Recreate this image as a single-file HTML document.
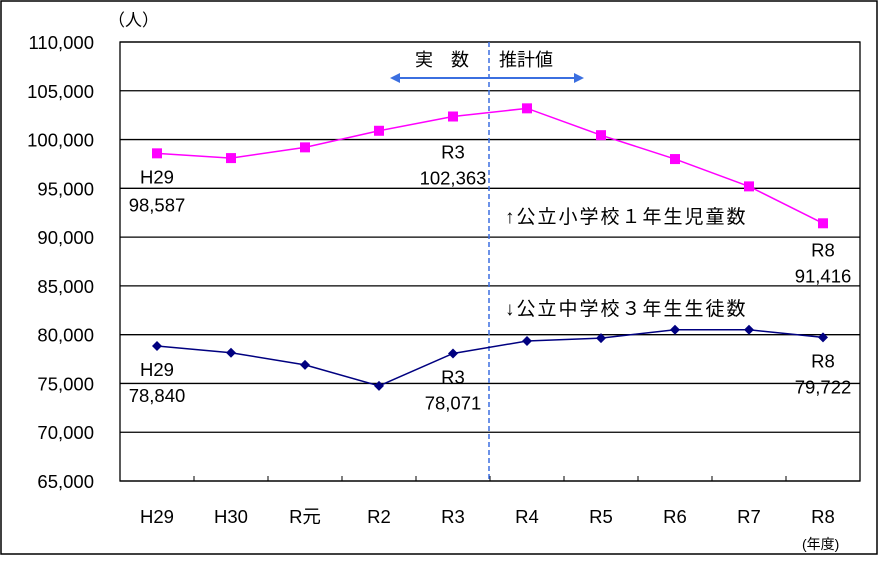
<!DOCTYPE html>
<html><head><meta charset="utf-8"><style>
body{margin:0;background:#fff}
svg text{font-family:"Liberation Sans","Noto Sans CJK JP",sans-serif;fill:#000}
</style></head><body>
<svg width="880" height="556" id="c">
<rect x="1" y="1" width="876" height="553" fill="#fff" stroke="#000" stroke-width="1.5"/>
<text x="108" y="26" font-size="17">（人）</text>
<g id="grid"></g>
<line x1="489" y1="42" x2="489" y2="481" stroke="#3b6fe0" stroke-width="1.5" stroke-dasharray="5,3"/>
<text x="415" y="66" font-size="18">実　数</text>
<text x="499" y="66" font-size="18">推計値</text>
<g>
<line x1="396" y1="78" x2="578" y2="78" stroke="#3b6fe0" stroke-width="2"/>
<polygon points="390,78 400,73 400,83" fill="#3b6fe0"/>
<polygon points="584,78 574,73 574,83" fill="#3b6fe0"/>
</g>
<g id="series"></g>
<text x="505" y="223" font-size="19" letter-spacing="2">↑公立小学校１年生児童数</text>
<text x="505" y="315" font-size="19" letter-spacing="2">↓公立中学校３年生生徒数</text>
<text x="802" y="549" font-size="14">(年度)</text>
</svg>
<script>
const categories=["H29","H30","R元","R2","R3","R4","R5","R6","R7","R8"];
const elemValues=[98587,98100,99200,100900,102363,103200,100450,98000,95200,91416];
const juniorValues=[78840,78150,76900,74750,78071,79350,79650,80500,80500,79722];
const yTicks=[65000,70000,75000,80000,85000,90000,95000,100000,105000,110000];
const L=120,R=860,T=42,B=481,ymin=65000,ymax=110000;
const bw=(R-L)/categories.length;
const x=i=>L+bw*(i+0.5);
const y=v=>B-(v-ymin)/(ymax-ymin)*(B-T);
const NS="http://www.w3.org/2000/svg";
function mk(p,t,a,txt){const e=document.createElementNS(NS,t);for(const k in a)e.setAttribute(k,a[k]);if(txt!=null)e.textContent=txt;p.appendChild(e);return e;}
const g=document.getElementById('grid');
yTicks.forEach(v=>{
 const l=mk(g,'line',{x1:L,x2:R,y1:y(v),y2:y(v),stroke:'#000','stroke-width':1.3});
 
 
 const t=mk(g,'text',{x:94,y:y(v)+7,'font-size':18.5,'text-anchor':'end'},v.toLocaleString('en-US'));
 
 
});
const fr=mk(g,'rect',{x:L,y:T,width:R-L,height:B-T,fill:'none',stroke:'#000','stroke-width':1.3});


categories.forEach((c,i)=>{
 if(i>0){const tk=mk(g,'line',{x1:L+bw*i,x2:L+bw*i,y1:B-5,y2:B,stroke:'#000'});
 
 }
 const t=mk(g,'text',{x:x(i),y:523,'font-size':18.5,'text-anchor':'middle'},c);
 
 
});
const s=document.getElementById('series');
function series(vals,col,name,sq){
 const pl=mk(s,'polyline',{points:vals.map((v,i)=>x(i)+','+y(v)).join(' '),fill:'none',stroke:col,'stroke-width':1.5});
 
 
 vals.forEach((v,i)=>{
  let m;
  if(sq)m=mk(s,'rect',{x:x(i)-5,y:y(v)-5,width:10,height:10,fill:col});
  else m=mk(s,'polygon',{points:`${x(i)},${y(v)-5} ${x(i)+5},${y(v)} ${x(i)},${y(v)+5} ${x(i)-5},${y(v)}`,fill:col});
  
  
 });
}
series(elemValues,'#ff00ff','elem',true);
series(juniorValues,'#000080','junior',false);
function lab(i,vals,dy1,dy2){
 const v=vals[i];
 const a=mk(s,'text',{x:x(i),y:y(v)+dy1,'font-size':18.5,'text-anchor':'middle'},categories[i]);
 
 
 const b=mk(s,'text',{x:x(i),y:y(v)+dy2,'font-size':18.5,'text-anchor':'middle'},v.toLocaleString('en-US'));
 
 
}
lab(0,elemValues,30,58);lab(4,elemValues,42,68);lab(9,elemValues,33,59);
lab(0,juniorValues,30,56);lab(4,juniorValues,30,56);lab(9,juniorValues,30,56);
</script>
</body></html>
